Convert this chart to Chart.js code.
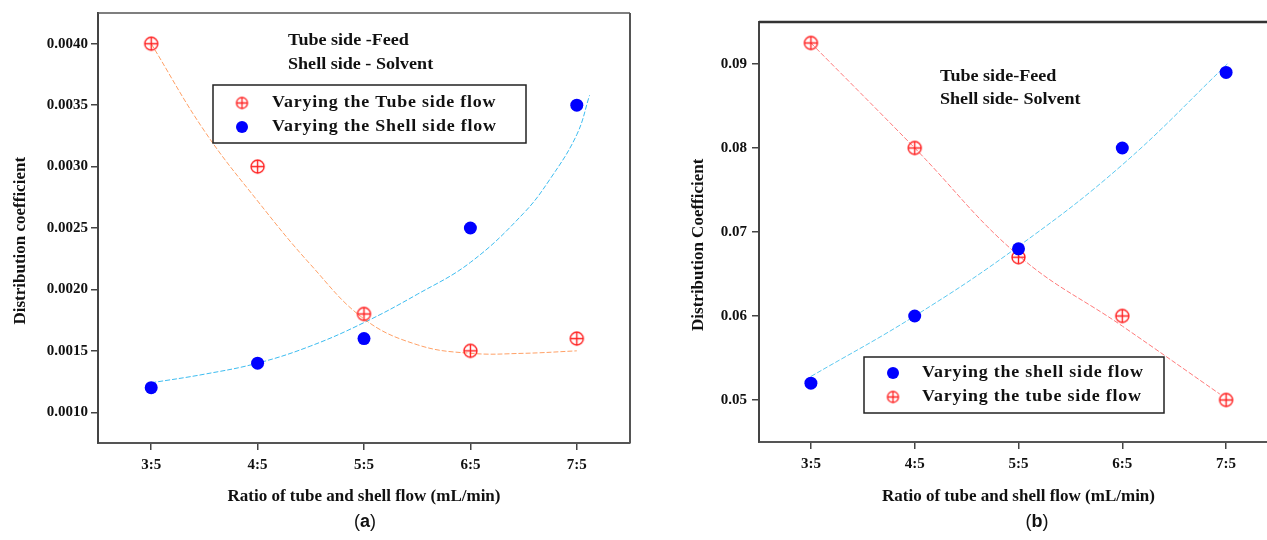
<!DOCTYPE html>
<html>
<head>
<meta charset="utf-8">
<script src="https://cdn.jsdelivr.net/npm/chart.js@4.4.1/dist/chart.umd.min.js"></script>
<style>
html, body { margin:0; padding:0; background:#fff; width:1267px; height:540px; overflow:hidden; }
#wrap { position:relative; width:1267px; height:540px; overflow:hidden; }
#boxA { position:absolute; left:0; top:0; width:640px; height:540px; }
#boxB { position:absolute; left:640px; top:0; width:650px; height:540px; }
.cap { position:absolute; top:511px; font-family:'Liberation Sans', Arial, sans-serif; font-size:18px; color:#111; transform:translateX(-50%); }
</style>
</head>
<body>
<div id="wrap">
  <div id="boxA"><canvas id="chartA" width="640" height="540"></canvas></div>
  <div id="boxB"><canvas id="chartB" width="650" height="540"></canvas></div>
  <div class="cap" style="left:365px">(<b>a</b>)</div>
  <div class="cap" style="left:1037px">(<b>b</b>)</div>
</div>
<script>
// x categories (flow ratio), placed at positions 0..4
const flowLabels = ['3:5', '4:5', '5:5', '6:5', '7:5'];
const flowIdx = [0, 1, 2, 3, 4];

// panel (a)
const tubeA  = [0.0040, 0.0030, 0.0018, 0.0015, 0.0016];
const shellA = [0.0012, 0.0014, 0.0016, 0.0025, 0.0035];
const tubeFitXA  = [0, 0.5, 1, 1.5, 2, 2.5, 3, 3.5, 4];
const tubeFitA   = [0.0040, 0.00329, 0.00272, 0.00220, 0.00176, 0.00155, 0.00148, 0.00148, 0.0015];
const shellFitXA = [0, 0.5, 1, 1.5, 2, 2.5, 3, 3.5, 3.75, 4, 4.12];
const shellFitA  = [0.00124, 0.00131, 0.0014, 0.00154, 0.00173, 0.00196, 0.00222, 0.00262, 0.00290, 0.00326, 0.00358];
const yTicksA = [0.0010, 0.0015, 0.0020, 0.0025, 0.0030, 0.0035, 0.0040];

// panel (b)
const shellB = [0.052, 0.060, 0.068, 0.080, 0.089];
const tubeB  = [0.0925, 0.080, 0.067, 0.060, 0.050];
const shellFitXB = [0, 1, 2, 3, 4.02];
const shellFitB  = [0.0528, 0.0600, 0.0683, 0.0780, 0.0901];
const tubeFitXB  = [0, 1, 2, 3, 3.94];
const tubeFitB   = [0.0925, 0.0800, 0.0672, 0.0588, 0.0507];
const yTicksB = [0.05, 0.06, 0.07, 0.08, 0.09];

const SERIF = "'Liberation Serif', 'Times New Roman', serif";

function pts(xs, ys) {
    return ys.map(function (v, i) { return { x: xs[i], y: v }; });
}

// red circle with a plus inside
function crossCircle(r, color, w) {
    const c = document.createElement('canvas');
    const s = Math.ceil(r * 2 + 4);
    c.width = s; c.height = s;
    const g = c.getContext('2d');
    const m = s / 2;
    g.strokeStyle = color;
    g.lineWidth = w;
    g.beginPath(); g.arc(m, m, r, 0, Math.PI * 2); g.stroke();
    g.beginPath();
    g.moveTo(m - r, m); g.lineTo(m + r, m);
    g.moveTo(m, m - r); g.lineTo(m, m + r);
    g.stroke();
    return c;
}
const redMark = crossCircle(6.5, '#ff2020', 1.4);
const redMarkSmall = crossCircle(5.5, '#ff2020', 1.3);

function drawStretched(ctx, text, x, y, sx) {
    ctx.save();
    ctx.translate(x, y);
    ctx.scale(sx, 1);
    ctx.fillText(text, 0, 0);
    ctx.restore();
}

const extras = {
    id: 'extras',
    afterDraw(chart, args, o) {
        const ctx = chart.ctx, a = chart.chartArea;
        ctx.save();
        // top / right frame
        ctx.strokeStyle = o.frameColor;
        ctx.lineWidth = o.topWidth;
        ctx.beginPath(); ctx.moveTo(a.left, a.top); ctx.lineTo(a.right, a.top); ctx.stroke();
        if (o.rightWidth) {
            ctx.lineWidth = o.rightWidth;
            ctx.beginPath(); ctx.moveTo(a.right, a.top); ctx.lineTo(a.right, a.bottom); ctx.stroke();
        }
        // notes
        ctx.fillStyle = '#111';
        ctx.textBaseline = 'middle';
        ctx.textAlign = 'left';
        ctx.font = 'bold 16px ' + SERIF;
        o.notes.forEach(function (n) { drawStretched(ctx, n.text, n.x, n.y, 1.13); });
        // legend
        const b = o.legendBox;
        ctx.strokeStyle = '#222';
        ctx.lineWidth = 1.5;
        ctx.strokeRect(b.x, b.y, b.w, b.h);
        ctx.font = 'bold 16px ' + SERIF;
        ctx.letterSpacing = '0.7px';
        o.legendItems.forEach(function (it) {
            const ds = chart.data.datasets[it.ds];
            if (ds.pointStyle === 'circle') {
                ctx.fillStyle = ds.backgroundColor;
                ctx.beginPath(); ctx.arc(it.mx, it.y, 6, 0, Math.PI * 2); ctx.fill();
            } else {
                ctx.drawImage(redMarkSmall, it.mx - redMarkSmall.width / 2, it.y - redMarkSmall.height / 2);
            }
            ctx.fillStyle = '#111';
            drawStretched(ctx, ds.label, it.tx, it.y, 1.12);
        });
        ctx.restore();
    }
};

function makeChart(id, cfg) {
    const datasets = [
        { label: cfg.names[0], data: pts(flowIdx, cfg.series[0]), showLine: false,
          pointStyle: cfg.styles[0] === 'red' ? redMark : 'circle',
          backgroundColor: '#0000ff', borderWidth: 0, pointRadius: 6.5 },
        { label: cfg.names[1], data: pts(flowIdx, cfg.series[1]), showLine: false,
          pointStyle: cfg.styles[1] === 'red' ? redMark : 'circle',
          backgroundColor: '#0000ff', borderWidth: 0, pointRadius: 6.5 },
        { label: 'fit1', data: pts(cfg.fitX[0], cfg.fits[0]), showLine: true, pointRadius: 0,
          borderColor: cfg.fitColors[0], borderWidth: 1, borderDash: [5, 2], tension: 0.4 },
        { label: 'fit2', data: pts(cfg.fitX[1], cfg.fits[1]), showLine: true, pointRadius: 0,
          borderColor: cfg.fitColors[1], borderWidth: 1, borderDash: [5, 2], tension: 0.4 }
    ];
    return new Chart(document.getElementById(id), {
        type: 'scatter',
        data: { datasets: datasets },
        options: {
            responsive: false,
            animation: false,
            layout: { padding: cfg.padding },
            plugins: {
                legend: { display: false },
                tooltip: { enabled: false },
                extras: cfg.extras
            },
            scales: {
                x: {
                    type: 'linear', min: -0.5, max: 4.5,
                    afterBuildTicks: function (s) { s.ticks = flowIdx.map(function (v) { return { value: v }; }); },
                    afterFit: function (s) { s.height = cfg.xHeight; },
                    ticks: { callback: function (v) { return flowLabels[v]; }, color: '#111', padding: 6,
                             font: { family: SERIF, size: 15, weight: 'bold' } },
                    grid: { drawOnChartArea: false, drawTicks: true, tickLength: 7, color: '#444', lineWidth: 1.5 },
                    border: { display: true, color: '#555', width: 2 },
                    title: { display: true, text: 'Ratio of tube and shell flow (mL/min)', color: '#111',
                             font: { family: SERIF, size: 17, weight: 'bold' }, padding: { top: 0, bottom: 3 } }
                },
                y: {
                    type: 'linear', min: cfg.yMin, max: cfg.yMax,
                    afterBuildTicks: function (s) { s.ticks = cfg.yTicks.map(function (v) { return { value: v }; }); },
                    afterFit: function (s) { s.width = cfg.yWidth; },
                    ticks: { callback: function (v) { return v.toFixed(cfg.dec); }, color: '#111', padding: cfg.yPad,
                             font: { family: SERIF, size: 15, weight: 'bold' } },
                    grid: { drawOnChartArea: false, drawTicks: true, tickLength: 7, color: '#444', lineWidth: 1.5 },
                    border: { display: true, color: '#444', width: 2 },
                    title: { display: true, text: cfg.yTitle, color: '#111',
                             font: { family: SERIF, size: 17, weight: 'bold' }, padding: { top: cfg.yTitlePad, bottom: 0 } }
                }
            }
        },
        plugins: [extras]
    });
}

makeChart('chartA', {
    names: ['Varying the Tube side flow', 'Varying the Shell side flow'],
    styles: ['red', 'blue'],
    series: [tubeA, shellA],
    fitX: [tubeFitXA, shellFitXA],
    fits: [tubeFitA, shellFitA],
    fitColors: ['#ffa066', '#3cbcf0'],
    yMin: 0.00075, yMax: 0.00425, yTicks: yTicksA, dec: 4,
    yTitle: 'Distribution coefficient      ',
    yTitlePad: 10, yPad: 3, yWidth: 98, xHeight: 67,
    padding: { left: 0, top: 13, right: 10, bottom: 30 },
    extras: {
        frameColor: '#555', topWidth: 1.5, rightWidth: 2,
        notes: [{ text: 'Tube side -Feed', x: 288, y: 41 }, { text: 'Shell side - Solvent', x: 288, y: 65 }],
        legendBox: { x: 213, y: 85, w: 313, h: 58 },
        legendItems: [{ ds: 0, mx: 242, tx: 272, y: 103 }, { ds: 1, mx: 242, tx: 272, y: 127 }]
    }
});

makeChart('chartB', {
    names: ['Varying the shell side flow', 'Varying the tube side flow'],
    styles: ['blue', 'red'],
    series: [shellB, tubeB],
    fitX: [shellFitXB, tubeFitXB],
    fits: [shellFitB, tubeFitB],
    fitColors: ['#5ac8f0', '#ff7a7a'],
    yMin: 0.045, yMax: 0.095, yTicks: yTicksB, dec: 2,
    yTitle: 'Distribution Coefficient      ',
    yTitlePad: 8, yPad: 5, yWidth: 79, xHeight: 68,
    padding: { left: 40, top: 22, right: 12, bottom: 30 },
    extras: {
        frameColor: '#333', topWidth: 2.5, rightWidth: 0,
        notes: [{ text: 'Tube side-Feed', x: 300, y: 77 }, { text: 'Shell side- Solvent', x: 300, y: 100 }],
        legendBox: { x: 224, y: 357, w: 300, h: 56 },
        legendItems: [{ ds: 0, mx: 253, tx: 282, y: 373 }, { ds: 1, mx: 253, tx: 282, y: 397 }]
    }
});
</script>
</body>
</html>
